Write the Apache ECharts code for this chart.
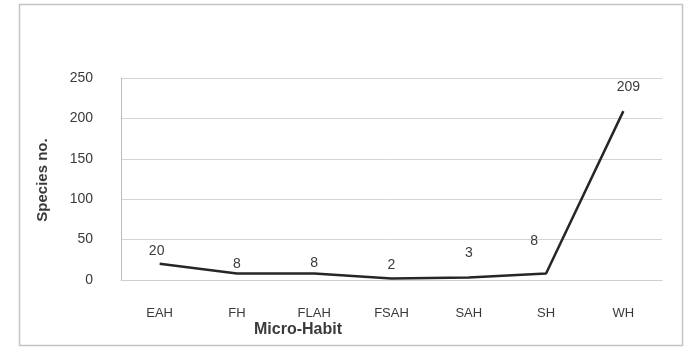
<!DOCTYPE html>
<html>
<head>
<meta charset="utf-8">
<style>
  html, body { margin: 0; padding: 0; background: #fff; }
  #chart { width: 689px; height: 347px; }
</style>
<script src="https://cdn.jsdelivr.net/npm/echarts@6/dist/echarts.min.js"></script>
</head>
<body>
<div id="chart"></div>
<script>
// Species counts per micro-habit
const categories = ['EAH', 'FH', 'FLAH', 'FSAH', 'SAH', 'SH', 'WH'];
const speciesCounts = [20, 8, 8, 2, 3, 8, 209];
const yTicks = { min: 0, max: 250, interval: 50 };

// Hand-placed value label nudges [dx, dy] in pixels
const labelOffsets = [[-3, 0], [0, 4], [0, 3], [0, 0], [0, -11], [-12, -19], [5, -11]];

const textColor = '#3a3a3a';
const fontFamily = '"Liberation Sans", "DejaVu Sans", sans-serif';

const chart = echarts.init(document.getElementById('chart'), null, { renderer: 'canvas' });

const seriesData = speciesCounts.map((v, i) => ({
  value: v,
  label: { offset: labelOffsets[i] }
}));

chart.setOption({
  animation: false,
  backgroundColor: '#ffffff',
  grid: { left: 121, right: 27, top: 78, bottom: 67, containLabel: false },
  graphic: [
    {
      type: 'rect',
      shape: { x: 19.5, y: 4.5, width: 663, height: 341 },
      style: { fill: 'none', stroke: '#c4c4c4', lineWidth: 1.5 },
      silent: true
    },
    {
      type: 'text',
      x: 43,
      y: 180,
      rotation: Math.PI / 2,
      style: {
        text: 'Species no.',
        fill: textColor,
        font: 'bold 15px ' + fontFamily,
        textAlign: 'center',
        textVerticalAlign: 'middle'
      }
    },
    {
      type: 'text',
      x: 298,
      y: 330,
      style: {
        text: 'Micro-Habit',
        fill: textColor,
        font: 'bold 16px ' + fontFamily,
        textAlign: 'center',
        textVerticalAlign: 'middle'
      }
    }
  ],
  xAxis: {
    type: 'category',
    data: categories,
    boundaryGap: true,
    axisLine: { show: true, lineStyle: { color: '#cfcfcf', width: 1 } },
    axisTick: { show: false },
    axisLabel: {
      color: textColor,
      fontSize: 13,
      fontFamily: fontFamily,
      margin: 27
    }
  },
  yAxis: {
    type: 'value',
    min: yTicks.min,
    max: yTicks.max,
    interval: yTicks.interval,
    axisLine: { show: true, lineStyle: { color: '#bdbdbd', width: 1 } },
    axisTick: { show: false },
    splitLine: { show: true, lineStyle: { color: '#d4d4d4', width: 1 } },
    axisLabel: {
      color: textColor,
      fontSize: 14,
      fontFamily: fontFamily,
      margin: 28
    }
  },
  series: [
    {
      type: 'line',
      data: seriesData,
      symbol: 'circle',
      symbolSize: 0,
      showSymbol: true,
      itemStyle: { color: '#262626' },
      lineStyle: { color: '#262626', width: 2.5 },
      label: {
        show: true,
        position: 'top',
        distance: 6,
        color: textColor,
        fontSize: 14,
        fontFamily: fontFamily
      }
    }
  ]
});
</script>
</body>
</html>
